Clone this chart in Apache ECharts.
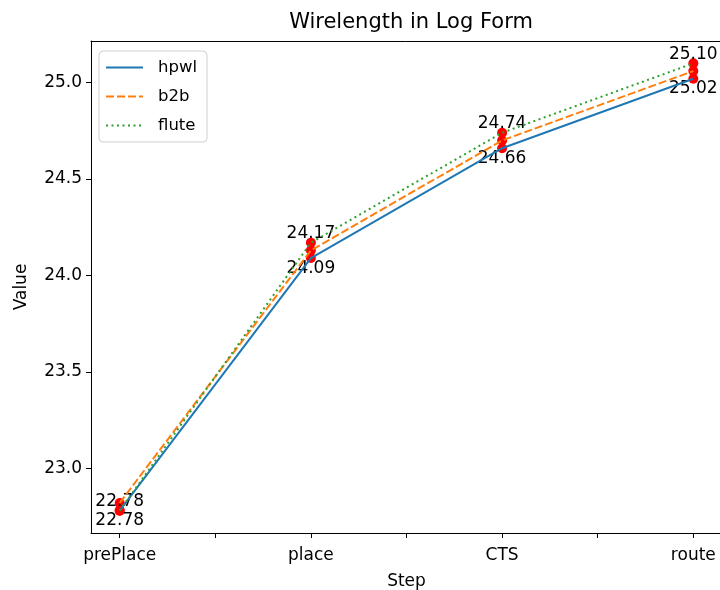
<!DOCTYPE html>
<html>
<head>
<meta charset="utf-8">
<script src="https://cdn.jsdelivr.net/npm/echarts@6/dist/echarts.min.js"></script>
<style>html,body{margin:0;padding:0;background:#fff}#c{width:720px;height:590px}</style>
</head>
<body>
<div id="c"></div>
<script>
const steps = ['prePlace', 'place', 'CTS', 'route'];
const hpwl = [22.78, 24.09, 24.66, 25.02];
const b2b = [22.82, 24.13, 24.70, 25.06];
const flute = [22.78, 24.17, 24.74, 25.10];
const yTicks = [23.0, 23.5, 24.0, 24.5, 25.0];
const xTicks = [0, 0.5, 1, 1.5, 2, 2.5, 3];

const font = 'DejaVu Sans';
const fs = 17;
const toPts = arr => arr.map((v, i) => [i, v]);

function lineSeries(name, arr, color, type) {
  return {
    name, type: 'line', data: toPts(arr), symbol: 'none', z: 3,
    lineStyle: { color, width: 2, type },
    itemStyle: { color },
    emphasis: { disabled: true }
  };
}
function dotSeries(arr, labelOffset) {
  return {
    type: 'scatter', data: toPts(arr), symbolSize: 10, z: 2,
    itemStyle: { color: '#ff0000', opacity: 1 },
    label: labelOffset === null ? { show: false } : {
      show: true, position: 'inside', offset: [0, labelOffset],
      color: '#000', fontFamily: font, fontSize: fs,
      textBorderWidth: 0,
      formatter: p => p.value[1].toFixed(2)
    },
    emphasis: { disabled: true }
  };
}

const chart = echarts.init(document.getElementById('c'), null, { renderer: 'canvas' });
chart.setOption({
  animation: false,
  backgroundColor: '#fff',
  title: {
    text: 'Wirelength in Log Form', left: 406, top: 7, textAlign: 'center',
    textStyle: { fontFamily: font, fontSize: 21, fontWeight: 'normal', color: '#000' }
  },
  grid: { left: 91, right: -2, top: 41, bottom: 57, show: false, containLabel: false, outerBoundsMode: 'none' },
  legend: {
    left: 99, top: 51, orient: 'vertical',
    padding: [8, 10, 8, 6],
    itemGap: 12, itemWidth: 37, itemHeight: 17,
    borderColor: '#d0d0d0', borderWidth: 1, borderRadius: 4,
    itemStyle: { opacity: 0 },
    textStyle: { fontFamily: font, fontSize: 16.5, color: '#000', padding: [0, 0, 0, 10] },
    data: ['hpwl', 'b2b', 'flute']
  },
  xAxis: [{
    type: 'value', min: -0.15, max: 3.15,
    name: 'Step', nameLocation: 'middle', nameGap: 40,
    nameTextStyle: { fontFamily: font, fontSize: fs, color: '#000' },
    axisLine: { show: true, onZero: false, lineStyle: { color: '#000', width: 1 } },
    axisTick: { show: true, length: 5, customValues: xTicks, lineStyle: { color: '#000' } },
    axisLabel: {
      customValues: [0, 1, 2, 3], margin: 14,
      fontFamily: font, fontSize: fs, color: '#000',
      formatter: v => steps[Math.round(v)]
    },
    splitLine: { show: false }
  }, {
    type: 'value', min: -0.15, max: 3.15, position: 'top',
    axisLine: { show: true, onZero: false, lineStyle: { color: '#000', width: 1 } },
    axisTick: { show: false }, axisLabel: { show: false }, splitLine: { show: false }
  }],
  yAxis: {
    type: 'value', min: 22.664, max: 25.216,
    name: 'Value', nameLocation: 'middle', nameGap: 61,
    nameTextStyle: { fontFamily: font, fontSize: fs, color: '#000' },
    axisLine: { show: true, onZero: false, lineStyle: { color: '#000', width: 1 } },
    axisTick: { show: true, length: 5, customValues: yTicks, lineStyle: { color: '#000' } },
    axisLabel: {
      customValues: yTicks, margin: 9,
      fontFamily: font, fontSize: fs, color: '#000',
      formatter: v => v.toFixed(1)
    },
    splitLine: { show: false }
  },
  series: [
    dotSeries(hpwl, 10),
    dotSeries(b2b, null),
    dotSeries(flute, -9),
    lineSeries('hpwl', hpwl, '#1f77b4', 'solid'),
    lineSeries('b2b', b2b, '#ff7f0e', [8, 3]),
    lineSeries('flute', flute, '#2ca02c', [2, 3.5])
  ]
});
</script>
</body>
</html>
